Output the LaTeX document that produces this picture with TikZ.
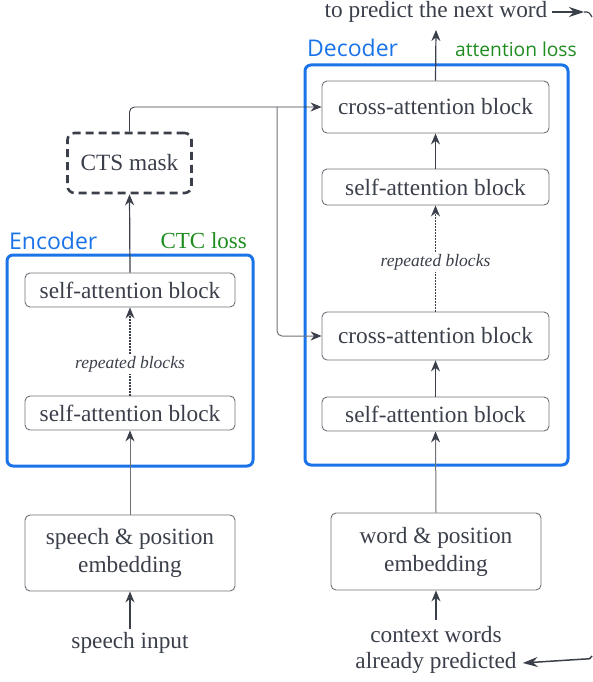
\documentclass[tikz,border=0pt]{standalone}
\usepackage{fontspec}
\setmainfont{Liberation Serif}
\newfontfamily\labfont{Open Sans}
\usetikzlibrary{arrows.meta}
\definecolor{ink}{HTML}{3A3F4A}
\definecolor{edge}{HTML}{6E7278}
\definecolor{bluebox}{HTML}{1A73E8}
\definecolor{greenlab}{HTML}{1E8C1E}
\tikzset{
  blk/.style={draw=edge, line width=0.9pt, rounded corners=5pt, minimum width=227pt, text=ink, font=\fontsize{23.3}{26}\selectfont, inner sep=0pt},
  emb/.style={draw=edge, line width=0.9pt, rounded corners=5pt, minimum width=210pt, text=ink, font=\fontsize{23.3}{28}\selectfont, align=center, inner sep=0pt},
  grp/.style={draw=bluebox, line width=3pt, rounded corners=6pt},
  arr/.style={draw=ink, line width=1.2pt, -{Stealth[length=11pt,width=9pt]}},
  bigarr/.style={draw=ink, line width=1.5pt, -{Stealth[length=15pt,width=10pt]}},
  garr/.style={draw=edge, line width=1pt, -{Stealth[length=11pt,width=9pt,color=ink]}},
  dotarr/.style={draw=ink, line width=1.1pt, dash pattern=on 2pt off 1pt, -{Stealth[length=11pt,width=9pt]}},
  txt/.style={text=ink, font=\fontsize{23.3}{26}\selectfont, inner sep=0pt},
  rep/.style={text=ink, font=\fontsize{17.5}{19}\selectfont\itshape, fill=white, inner sep=2pt},
}
\begin{document}
\begin{tikzpicture}[x=1pt,y=-1pt]
\useasboundingbox (0,0) rectangle (592,682);
% group boxes
\draw[grp] (7,255) rectangle (253,466);
\draw[grp] (305,65) rectangle (568,465);
\node[text=bluebox, font=\labfont\fontsize{23}{25}\selectfont, anchor=west, inner sep=0pt] (enclab) at (9,241) {Encoder};
\node[text=greenlab, font=\fontsize{23}{25}\selectfont, anchor=east, inner sep=0pt] (ctclab) at (247,241) {CTC loss};
\node[text=bluebox, font=\labfont\fontsize{23}{25}\selectfont, anchor=west, inner sep=0pt] (declab) at (307,48) {Decoder};
\node[text=greenlab, font=\labfont\fontsize{19.2}{21}\selectfont, anchor=east, inner sep=0pt] (attlab) at (577,49) {attention loss};

% decoder blocks
\node[blk, minimum height=52pt] (dca1) at (435.5,107) {cross-attention block};
\node[blk, minimum height=36pt] (dsa2) at (435.5,187) {self-attention block};
\node[blk, minimum height=48pt] (dca2) at (435.5,336) {cross-attention block};
\node[blk, minimum height=34pt] (dsa1) at (435.5,414) {self-attention block};
\node[emb, minimum height=77pt] (wemb) at (436,551.5) {word \& position\\embedding};

% encoder blocks
\node[blk, minimum width=210pt, minimum height=34pt] (esa2) at (130,290) {self-attention block};
\node[blk, minimum width=210pt, minimum height=34pt] (esa1) at (130,413) {self-attention block};
\node[emb, minimum height=76pt] (semb) at (130,553) {speech \& position\\embedding};
\node[draw=ink, line width=2.6pt, dash pattern=on 8pt off 5pt, rounded corners=7pt, minimum width=124pt, minimum height=60pt, text=ink, font=\fontsize{23.3}{26}\selectfont] (cts) at (129.5,163) {CTS mask};

% texts
\node[txt] (pred) at (436,12) {to predict the next word};
\coordinate (predtop) at (436,30);
\node[txt] (spin) at (130,643) {speech input};
\coordinate (spinarr) at (130,629);
\node[txt] (ctx1) at (436,635) {context words};
\node[txt] (ctx2) at (436,663) {already predicted};
\coordinate (ctxarr) at (436,620);
\coordinate (br) at (277,107);
\coordinate (predout) at (584,12);
\coordinate (edgeout) at (592,17);
\coordinate (edgein) at (592,656);

% decoder connectors
\draw[arr] (dca1.north) -- (predtop);
\draw[arr] (dsa2.north) -- (dca1.south);
\draw[dotarr] (dca2.north) -- (dsa2.south) node[rep, midway, yshift=-4pt] (drep) {repeated blocks};
\draw[arr] (dsa1.north) -- (dca2.south);
\draw[garr] (wemb.north) -- (dsa1.south);
\draw[arr] (ctxarr) -- (wemb.south);

% encoder connectors
\draw[arr] (esa2.north) -- (cts.south);
\draw[dotarr] (esa1.north) -- (esa2.south) node[rep, midway, yshift=-13pt] (erep) {repeated blocks};
\draw[garr] (semb.north) -- (esa1.south);
\draw[arr] (spinarr) -- (semb.south);

% mask to decoder
\draw[arr, line width=0.9pt, rounded corners=5pt] (cts.north) |- (dca1.west);
\draw[garr, rounded corners=5pt] (br) |- (dca2.west);

% loop arrows at right edge
\draw[bigarr] ([xshift=5pt]pred.east) -- (predout);
\draw[draw=ink, line width=1.2pt] (predout) .. controls (589,12) .. (edgeout);
\draw[bigarr] (edgein) .. controls (590,659) .. (585,659) -- ([xshift=6pt]ctx2.east);
\end{tikzpicture}
\end{document}
